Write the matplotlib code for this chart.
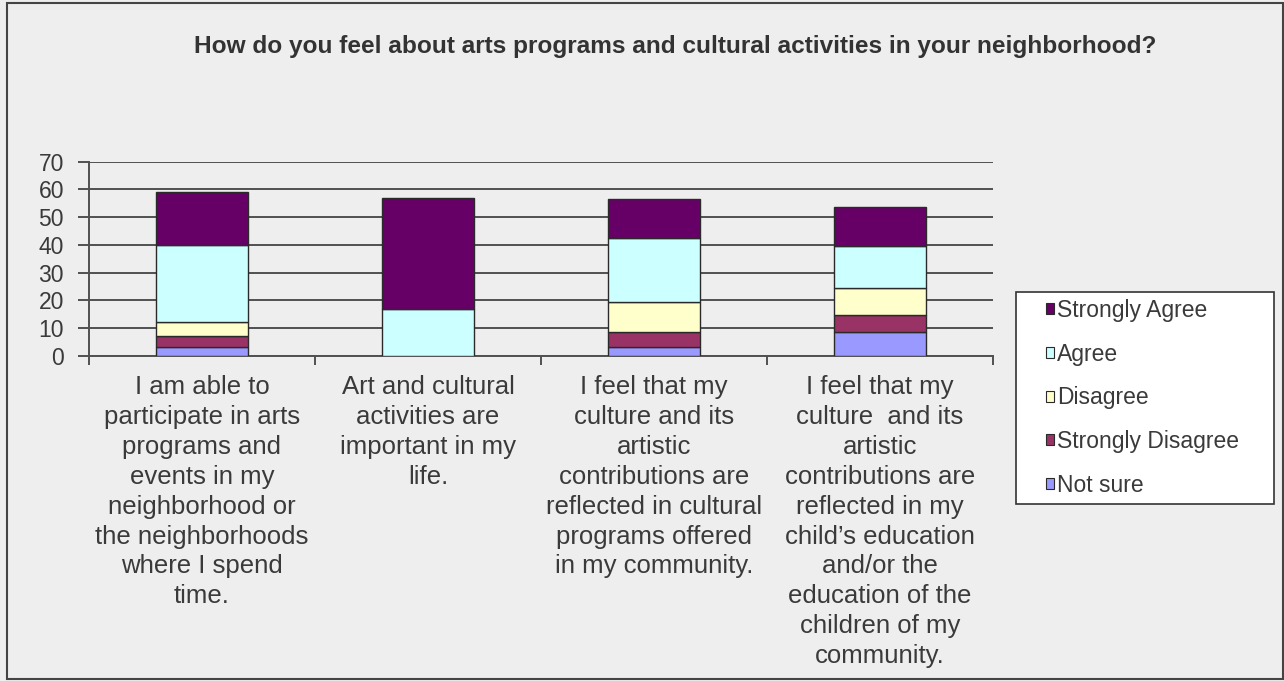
import matplotlib
matplotlib.use("Agg")
import matplotlib.pyplot as plt
from matplotlib.patches import Patch, Rectangle

plt.rcParams['font.family'] = ['Liberation Sans', 'DejaVu Sans']

# survey statements (x categories)
statements = [
    "I am able to\nparticipate in arts\nprograms and\nevents in my\nneighborhood or\nthe neighborhoods\nwhere I spend\ntime.",
    "Art and cultural\nactivities are\nimportant in my\nlife.",
    "I feel that my\nculture and its\nartistic\ncontributions are\nreflected in cultural\nprograms offered\nin my community.",
    "I feel that my\nculture  and its\nartistic\ncontributions are\nreflected in my\nchild\u2019s education\nand/or the\neducation of the\nchildren of my\ncommunity.",
]

# responses, stacked bottom to top
not_sure = [3, 0, 3, 8.5]
strongly_disagree = [4, 0, 5.5, 6]
disagree = [5, 0, 11, 10]
agree = [28, 17, 23, 15]
strongly_agree = [19, 40, 14, 14]

series_names = ["Not sure", "Strongly Disagree", "Disagree", "Agree", "Strongly Agree"]
series_colors = ["#9999FF", "#993366", "#FFFFCC", "#CCFFFF", "#660066"]

title = "How do you feel about arts programs and cultural activities in your neighborhood?"
yticks = [0, 10, 20, 30, 40, 50, 60, 70]

text_col = "#3a3a3a"
grid_col = "#505050"
W, H = 1284, 681

fig = plt.figure(figsize=(12.84, 6.81), dpi=100, facecolor="#EEEEEE")
ax = fig.add_axes([0.0693, 0.4777, 0.7041, 0.2849])
ax.set_facecolor("#EEEEEE")

x = list(range(len(statements)))
bottom = [0] * len(statements)
for name, col, vals in zip(series_names, series_colors,
                           [not_sure, strongly_disagree, disagree, agree, strongly_agree]):
    ax.bar(x, vals, width=0.407, bottom=bottom, color=col, edgecolor="#2a2a2a",
           linewidth=1.0, label=name, zorder=3)
    bottom = [b + v for b, v in zip(bottom, vals)]

ax.set_xlim(-0.5, 3.5)
ax.set_ylim(0, 70)
ax.set_yticks(yticks)
ax.yaxis.grid(True, color=grid_col, linewidth=1.4, zorder=0)
ax.tick_params(axis='y', length=8, width=1.4, color=grid_col, pad=10,
               labelsize=16.5, labelcolor=text_col)

ax.set_xticks(x)
ax.set_xticklabels(statements, fontsize=18.5, color=text_col, linespacing=1.31)
ax.tick_params(axis='x', which='major', length=0, pad=14)
ax.set_xticks([-0.5, 0.5, 1.5, 2.5, 3.5], minor=True)
ax.tick_params(axis='x', which='minor', length=6.5, width=1.4, color=grid_col)

for side in ['top', 'right']:
    ax.spines[side].set_visible(False)
for side in ['left', 'bottom']:
    ax.spines[side].set_color(grid_col)
    ax.spines[side].set_linewidth(1.4)

fig.text(0.526, 0.931, title, ha='center', va='center', fontsize=17.6,
         fontweight='bold', color="#333333")

# legend box drawn separately so the padding can differ by side
fig.patches.append(Rectangle((1016 / W, 1 - 504 / H), 258 / W, 212 / H,
                             transform=fig.transFigure, facecolor="white",
                             edgecolor="#333333", linewidth=1.2))
handles = [Patch(facecolor=c, edgecolor="#2a2a2a", linewidth=0.8) for c in series_colors][::-1]
leg = fig.legend(handles, series_names[::-1], loc='upper left',
                 bbox_to_anchor=(1046 / W, 1 - 299 / H), bbox_transform=fig.transFigure,
                 borderaxespad=0, borderpad=0, fontsize=16.5, frameon=False,
                 handlelength=0.36, handleheight=0.36, handletextpad=0.12,
                 labelspacing=0.9)
for t in leg.get_texts():
    t.set_color(text_col)

fig.patches.append(Rectangle((7 / W, 2 / H), 1276 / W, 676 / H,
                             transform=fig.transFigure, fill=False,
                             edgecolor="#444444", linewidth=1.5))

fig.savefig("out.png", dpi=100, facecolor=fig.get_facecolor())
